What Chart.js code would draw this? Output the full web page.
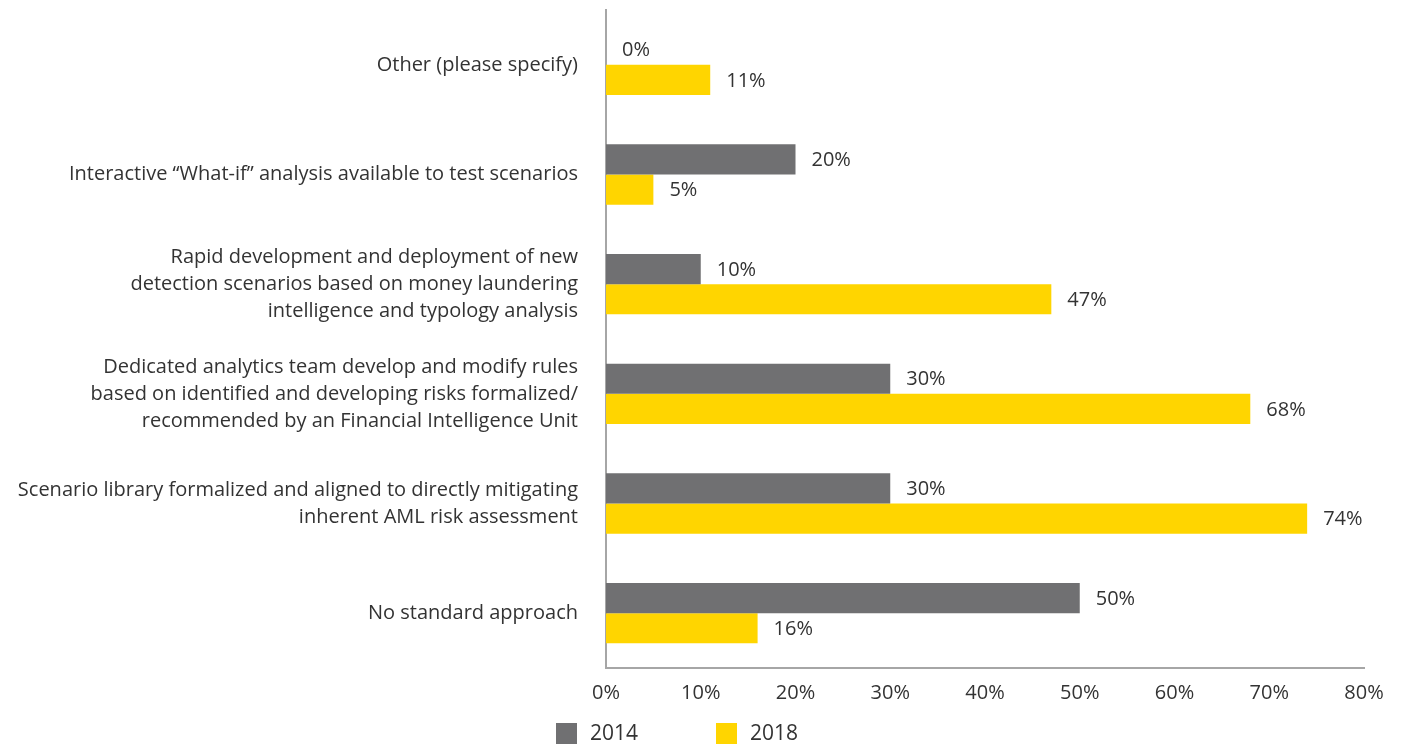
<!DOCTYPE html>
<html>
<head>
<meta charset="utf-8">
<title>AML scenario approach</title>
<script src="https://cdn.jsdelivr.net/npm/chart.js@4"></script>
<style>
  html, body { margin: 0; padding: 0; background: #fff; }
  #wrap { width: 1402px; height: 747px; position: relative; }
</style>
</head>
<body>
<div id="wrap"><canvas id="myChart"></canvas></div>
<script>
// Categorias (de arriba hacia abajo)
const categorias = [
  "Other (please specify)",
  "Interactive \u201cWhat-if\u201d analysis available to test scenarios",
  ["Rapid development and deployment of new", "detection scenarios based on money laundering", "intelligence and typology analysis"],
  ["Dedicated analytics team develop and modify rules", "based on identified and developing risks formalized/", "recommended by an Financial Intelligence Unit"],
  ["Scenario library formalized and aligned to directly mitigating", "inherent AML risk assessment"],
  "No standard approach"
];

// Valores por serie (%)
const valores2014 = [0, 20, 10, 30, 30, 50];
const valores2018 = [11, 5, 47, 68, 74, 16];

// Series y colores
const series = ["2014", "2018"];
const colores = ["#707072", "#FFD500"];

// Ticks del eje x
const ticksX = [0, 10, 20, 30, 40, 50, 60, 70, 80];

const fuente = "'Open Sans', 'DejaVu Sans', sans-serif";
const colorTexto = "#333333";
const colorEje = "#a6a6a6";

//? plugin: etiquetas de valor a la derecha de cada barra
const etiquetasValor = {
  id: "etiquetasValor",
  afterDatasetsDraw(chart) {
    const { ctx } = chart;
    ctx.save();
    ctx.font = "20px " + fuente;
    ctx.fillStyle = colorTexto;
    ctx.textAlign = "left";
    ctx.textBaseline = "middle";
    chart.data.datasets.forEach((ds, i) => {
      chart.getDatasetMeta(i).data.forEach((bar, j) => {
        ctx.fillText(ds.data[j] + "%", bar.x + 16, bar.y + 1);
      });
    });
    ctx.restore();
  }
};

//? plugin: leyenda con cuadros debajo del eje
const leyenda = {
  id: "leyenda",
  afterDraw(chart) {
    const { ctx, chartArea } = chart;
    ctx.save();
    ctx.font = "21px " + fuente;
    ctx.textBaseline = "middle";
    ctx.textAlign = "left";
    const y = chartArea.bottom + 65;
    let x = chartArea.left - 50;
    series.forEach((nombre, i) => {
      ctx.fillStyle = colores[i];
      ctx.fillRect(x, y - 10, 21, 21);
      ctx.fillStyle = colorTexto;
      ctx.fillText(nombre, x + 34, y + 1);
      x += 160;
    });
    ctx.restore();
  }
};

const data = {
  labels: categorias,
  datasets: [
    { label: series[0], data: valores2014, backgroundColor: colores[0] },
    { label: series[1], data: valores2018, backgroundColor: colores[1] }
  ]
};

const config = {
  type: "bar",
  data: data,
  options: {
    indexAxis: "y",
    responsive: false,
    animation: false,
    layout: { padding: { top: 10, right: 38, left: 0, bottom: 0 } },
    datasets: {
      bar: { categoryPercentage: 0.55, barPercentage: 1.0 }
    },
    plugins: {
      legend: { display: false },
      tooltip: { enabled: false }
    },
    scales: {
      x: {
        min: 0,
        max: 80,
        afterBuildTicks: (scale) => { scale.ticks = ticksX.map(v => ({ value: v })); },
        afterFit: (scale) => { scale.height = 79; scale.paddingLeft = 0; scale.paddingRight = 0; },
        grid: { display: false, drawTicks: false },
        border: { display: true, color: colorEje, width: 2 },
        ticks: {
          padding: 13,
          color: colorTexto,
          font: { family: fuente, size: 20 },
          callback: (v) => v + "%"
        }
      },
      y: {
        // ancho fijo para las etiquetas largas, sin relleno extra arriba/abajo
        afterFit: (scale) => { scale.width = 606; scale.paddingTop = 0; scale.paddingBottom = 0; },
        grid: { display: false, drawTicks: false },
        border: { display: true, color: colorEje, width: 2 },
        ticks: {
          padding: 28,
          color: colorTexto,
          font: { family: fuente, size: 20, lineHeight: 1.35 }
        }
      }
    }
  },
  plugins: [etiquetasValor, leyenda]
};

const ctx = document.getElementById("myChart");
ctx.width = 1402;
ctx.height = 747;
new Chart(ctx, config);
</script>
</body>
</html>
